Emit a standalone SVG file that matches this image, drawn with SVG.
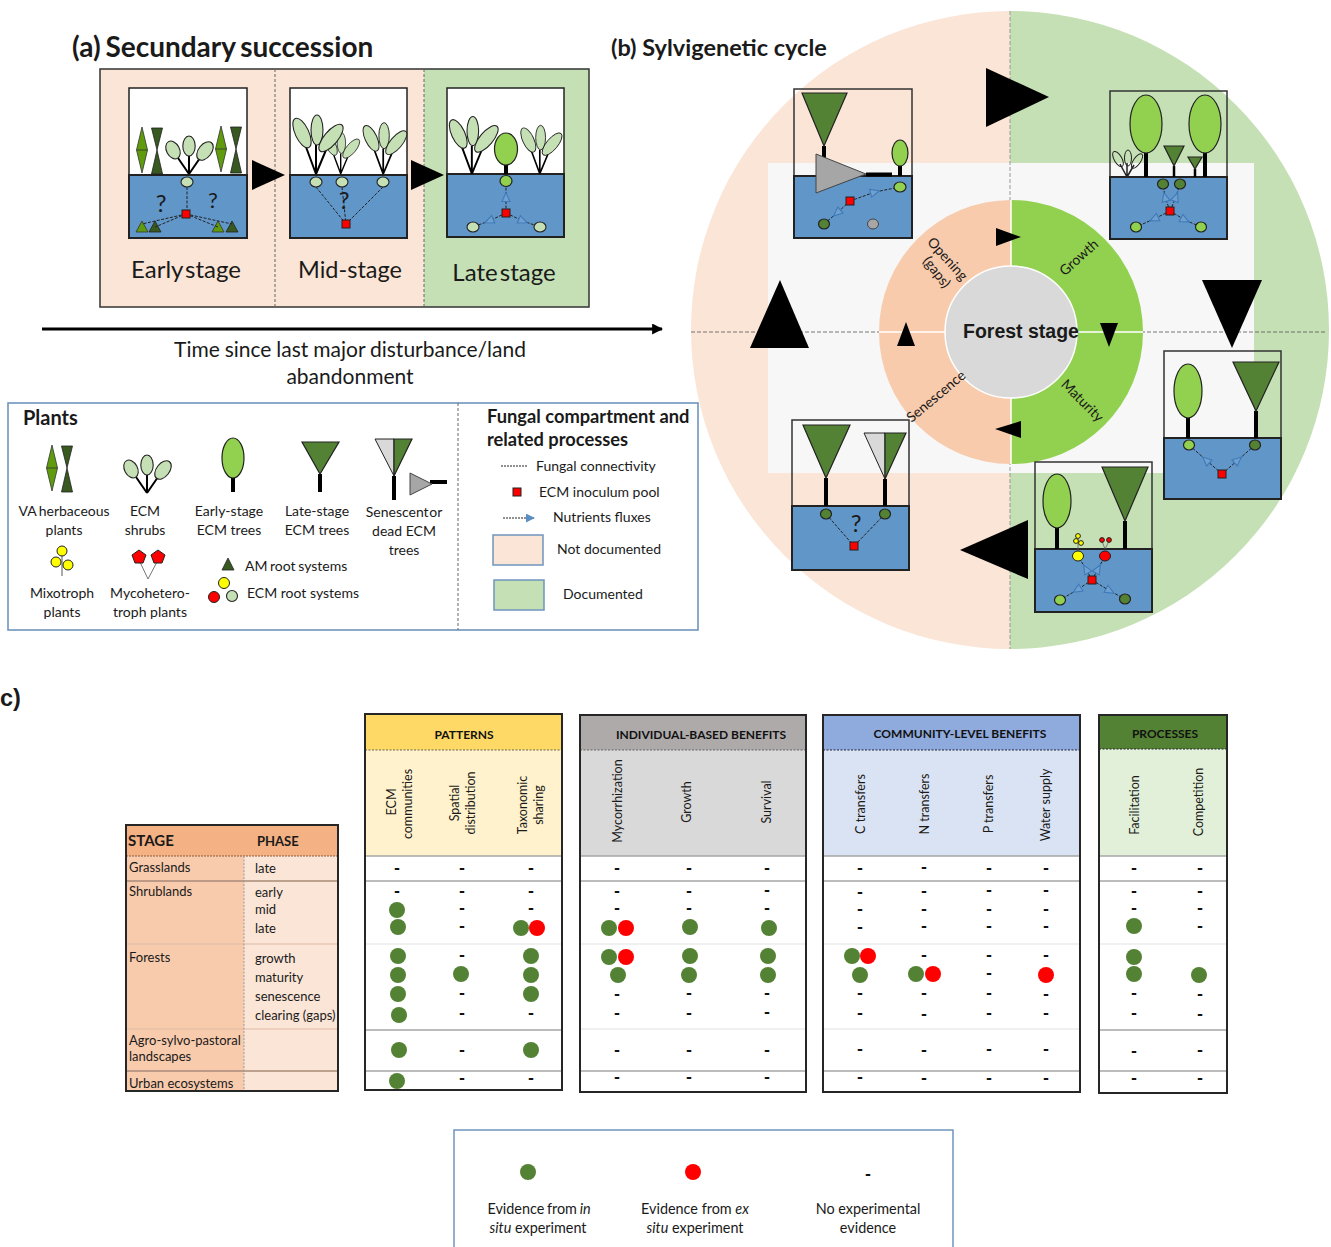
<svg xmlns="http://www.w3.org/2000/svg" xmlns:xlink="http://www.w3.org/1999/xlink" width="1331" height="1247" viewBox="0 0 1331 1247">
<style>
text{font-family:"Lato","Carlito","Liberation Sans",sans-serif;fill:#1a1a1a}
.m{text-anchor:middle}
.b{font-weight:700}
.t14{font-size:14px}.t13{font-size:13px}.t12{font-size:12.5px}
.title{font-size:28px;font-weight:700;word-spacing:-2px}
.stage{font-size:24px;text-anchor:middle}
.head{font-size:12px;font-weight:700;text-anchor:middle;fill:#111}
.rot{font-size:12.5px;text-anchor:middle}
.dash text{font-family:"DejaVu Sans",sans-serif;font-size:14.400px;font-weight:700;text-anchor:middle;fill:#111}
.soil{fill:#6196c9;stroke:#222;stroke-width:2}
.sky{fill:#fff;stroke:#222;stroke-width:1.5}
.skyn{fill:none;stroke:#333;stroke-width:1.5}
.trunk{stroke:#000;stroke-width:4;fill:none}
.stem{stroke:#000;stroke-width:2;fill:none}
.early{fill:#92d050;stroke:#222;stroke-width:1.2}
.late{fill:#548235;stroke:#222;stroke-width:1.2}
.lite{fill:#c5e0b4;stroke:#222;stroke-width:1.1}
.dark{fill:#38591f;stroke:#222;stroke-width:.8}
.herb{fill:#5f9b0c;stroke:#333;stroke-width:.8}
.pool{fill:#f00;stroke:#222;stroke-width:1}
.grey{fill:#a6a6a6;stroke:#444;stroke-width:1}
.silver{fill:#d9d9d9;stroke:#222;stroke-width:1}
.yel{fill:#ff0;stroke:#222;stroke-width:1}
.red{fill:#f00;stroke:#222;stroke-width:1}
.con{fill:none;stroke:#222;stroke-width:1;stroke-dasharray:3 1.5}
.flux{fill:none;stroke:#222;stroke-width:1;stroke-dasharray:3 1.5;marker-mid:url(#flux)}
.sep{stroke:#666;stroke-width:1;stroke-dasharray:3 2;fill:none}
.arrow{fill:#000}
.g{fill:#548235}.r{fill:#f00}
.rowd{stroke:#a6a6a6;stroke-width:1.6}
.rowl{stroke:#e2e2e2;stroke-width:1.2}
.frame{fill:none;stroke:#262626;stroke-width:2}
.lframe{fill:#fff;stroke:#6f95bd;stroke-width:1.6}
</style>
<defs>
<marker id="flux" viewBox="-6 -6 12 12" markerWidth="12" markerHeight="12" orient="auto" markerUnits="userSpaceOnUse"><polygon points="-4.500,-4 4.500,0 -4.500,4" fill="#6fa0d0" stroke="#3f7ab8" stroke-width="1.100"/></marker>
<marker id="blue" viewBox="0 0 10 10" refX="9" refY="5" markerWidth="9" markerHeight="9" orient="auto" markerUnits="userSpaceOnUse"><polygon points="0,0 10,5 0,10" fill="#5b8fc4"/></marker>
<marker id="time" viewBox="0 0 10 10" refX="9" refY="5" markerWidth="11" markerHeight="11" orient="auto" markerUnits="userSpaceOnUse"><polygon points="0,0 10,5 0,10" fill="#000"/></marker>
<g id="shrub"><path class="stem" d="M0,0L-11,-16M0,0V-18M0,0L11,-16"/><ellipse class="lite" cx="-16" cy="-24" rx="6.500" ry="9.500" transform="rotate(-28 -16 -24)"/><ellipse class="lite" cx="0" cy="-28" rx="6.200" ry="10"/><ellipse class="lite" cx="16" cy="-23" rx="6.500" ry="10.500" transform="rotate(38 16 -23)"/></g>
<g id="tall"><path class="stem" d="M0,0L-10,-27M0,0V-29M0,0L10,-24"/><ellipse class="lite" cx="-14" cy="-41" rx="6.800" ry="16" transform="rotate(-25 -14 -41)"/><ellipse class="lite" cx="1" cy="-44" rx="6" ry="15"/><ellipse class="lite" cx="15" cy="-36" rx="6.800" ry="17" transform="rotate(40 15 -36)"/></g>
<g id="herbs"><polygon class="herb" points="0,0 5.500,23 0,46 -5.500,23"/><path d="M-5.500,23H5.500" stroke="#333" stroke-width=".8"/><polygon class="dark" points="9.500,1 20.500,1 15,23 20.500,47 9.500,47 15,23"/></g>
</defs>

<g id="panel-a-bg">
<rect x="100" y="69" width="324" height="238" fill="#fbe5d6"/>
<rect x="424" y="69" width="165" height="238" fill="#c5e0b4"/>
<rect x="100" y="69" width="489" height="238" fill="none" stroke="#333" stroke-width="1.500"/>
<path class="sep" d="M275,69V307M424,69V307"/>
<text x="72" y="57" class="title">(a) Secundary succession</text>
</g>

<g id="early-stage">
<rect class="sky" x="129" y="88" width="118" height="87"/>
<rect class="soil" x="129" y="175" width="118" height="63"/>
<use href="#herbs" x="142" y="127"/>
<use href="#herbs" x="221" y="126"/>
<use href="#shrub" x="189" y="174"/>
<polygon class="herb" points="142,221 148,232 136,232"/><polygon class="dark" points="155,221 161,232 149,232"/>
<polygon class="herb" points="218,221 224,232 212,232"/><polygon class="dark" points="232,221 238,232 226,232"/>
<text x="161" y="212" class="m" font-size="24">?</text><text x="213" y="208" class="m" font-size="22">?</text>
<text x="186" y="278" class="stage" word-spacing="-4">Early stage</text>
</g>
<g id="mid-stage">
<rect class="sky" x="290" y="88" width="117" height="87"/>
<rect class="soil" x="290" y="175" width="117" height="63"/>
<use href="#tall" x="341" y="174" transform="translate(102 52) scale(.7)"/>
<use href="#tall" x="316" y="174"/>
<use href="#tall" x="383" y="174" transform="translate(50 22.600) scale(.87)"/>
<text x="344" y="209" class="m" font-size="24">?</text>
<text x="350" y="278" class="stage" style="font-size:23.500px">Mid-stage</text>
</g>
<g id="late-stage">
<rect class="sky" x="447" y="88" width="117" height="86"/>
<rect class="soil" x="447" y="174" width="117" height="63"/>
<use href="#tall" x="472" y="174" transform="translate(14 5) scale(.97)"/>
<use href="#tall" x="540" y="174" transform="translate(97 31) scale(.82)"/>
<path class="trunk" d="M506,164V174"/><ellipse class="early" cx="506" cy="149" rx="11.500" ry="16"/>
<text x="504" y="281" class="stage" word-spacing="-4">Late stage</text>
</g>

<g id="cycle-bg">
<path d="M1010,11A319,319 0 0 0 1010,649Z" fill="#fbe5d6"/>
<path d="M1010,11A319,319 0 0 1 1010,649Z" fill="#c5e0b4"/>
<rect x="768" y="163" width="486" height="310" fill="#f7f7f7"/>
<path d="M1010,11V649" stroke="#999" stroke-width="1" stroke-dasharray="4 2"/>
<path d="M691,332H1327" stroke="#555" stroke-width=".8" stroke-dasharray="4 2"/>
<text x="611" y="56" font-size="23.500" font-weight="700">(b) Sylvigenetic cycle</text>
</g>
<g id="forest-ring">
<path d="M1011,200A132,132 0 0 0 1011,464Z" fill="#f8cbad"/>
<path d="M1011,200A132,132 0 0 1 1011,464Z" fill="#92d050"/>
<path d="M1011,200V464M879,332H1143" stroke="#fff" stroke-width="1.500"/>
<circle cx="1011" cy="332" r="66" fill="#d9d9d9" stroke="#fff" stroke-width="1.500"/>
<text x="1021" y="338" class="m b" style="font-family:'Liberation Sans',sans-serif;font-size:19.500px">Forest stage</text>
<text transform="translate(944,262) rotate(48)" class="m" font-size="14">Opening</text>
<text transform="translate(933,275) rotate(52)" class="m" font-size="14">(gaps)</text>
<text transform="translate(1082,261) rotate(-42)" class="m" font-size="14">Growth</text>
<text transform="translate(939,400) rotate(-40)" class="m" font-size="14">Senescence</text>
<text transform="translate(1079,404) rotate(45)" class="m" font-size="14">Maturity</text>
</g>

<g id="gap-panel">
<rect class="skyn" x="794" y="89" width="118" height="87"/>
<rect class="soil" x="794" y="176" width="118" height="62"/>
<path class="trunk" d="M824,146V176M866,174.500H892"/>
<polygon class="late" points="802,93 847,93 824,146"/>
<polygon class="grey" points="816,154 816,193 866,174"/>
<path class="trunk" d="M900,166V176"/><ellipse class="early" cx="900" cy="153" rx="8" ry="13"/>
</g>
<g id="growth-panel">
<rect class="skyn" x="1110" y="91" width="117" height="86"/>
<rect class="soil" x="1110" y="177" width="117" height="62"/>
<path class="trunk" d="M1146,150V177M1205,150V177"/>
<ellipse class="early" cx="1146" cy="124" rx="16" ry="29"/><ellipse class="early" cx="1205" cy="124" rx="16" ry="29"/>
<path class="stem" d="M1174,166V177M1195,169V177" style="stroke-width:2.500px"/>
<polygon class="late" points="1164,146 1184,146 1174,166"/><polygon class="late" points="1188,157 1202,157 1195,169"/>
<g fill="none" stroke="#222" stroke-width="1"><path d="M1127,177L1120,164M1127,177V163M1127,177L1134,165" stroke-width="1.500"/><ellipse cx="1118" cy="159" rx="3.800" ry="8.500" transform="rotate(-30 1118 159)"/><ellipse cx="1128" cy="158" rx="3.500" ry="8"/><ellipse cx="1137" cy="161" rx="3.500" ry="8.500" transform="rotate(35 1137 161)"/></g>
</g>
<g id="maturity-panel">
<rect class="skyn" x="1164" y="351" width="117" height="87"/>
<rect class="soil" x="1164" y="438" width="117" height="61"/>
<path class="trunk" d="M1188,416V438M1256,411V438"/>
<ellipse class="early" cx="1188" cy="391" rx="14" ry="27"/>
<polygon class="late" points="1233,362 1279,362 1256,411"/>
</g>
<g id="diverse-panel">
<rect class="skyn" x="1035" y="462" width="117" height="87"/>
<rect class="soil" x="1035" y="549" width="117" height="63"/>
<path class="trunk" d="M1057,526V549M1125,521V549"/>
<ellipse class="early" cx="1057" cy="501" rx="14" ry="27"/>
<polygon class="late" points="1102,467 1148,467 1125,521"/>
<path d="M1078,539V551M1102,541L1105,549L1109,541" stroke="#555" stroke-width=".7" fill="none"/>
<circle class="yel" cx="1078" cy="536" r="2.400"/><circle class="yel" cx="1076" cy="541" r="2.400"/><circle class="yel" cx="1081" cy="543" r="2.400"/>
<circle class="red" cx="1102" cy="540" r="2.400"/><circle class="red" cx="1109" cy="540" r="2.400"/>
</g>
<g id="senescent-panel">
<rect class="skyn" x="792" y="420" width="117" height="86"/>
<rect class="soil" x="792" y="506" width="117" height="64"/>
<path class="trunk" d="M826,478V506M885,479V506"/>
<polygon class="late" points="803,425 850,425 826,478"/>
<polygon class="silver" points="864,433 885,433 885,479"/><polygon class="late" points="885,433 906,433 885,479"/>
<text x="856" y="532" class="m" font-size="24">?</text>
</g>

<g id="connectors">
<path class="con" d="M187,187V214M186,214L142,224M186,214L155,227M186,214L218,227M186,214L232,224"/>
<path class="con" d="M316,187L346,224M342,187L346,224M383,187L346,224"/>
<path class="flux" d="M506,213L506,197L506,186"/>
<path class="flux" d="M506,213L489,221L473,227"/>
<path class="flux" d="M506,213L523,221L540,227"/>
<path class="flux" d="M850,201L875,192L900,187"/>
<path class="flux" d="M850,201L837,213L824,224"/>
<path class="flux" d="M1170,211L1165,197L1163,184"/>
<path class="flux" d="M1170,211L1176,197L1180,184"/>
<path class="flux" d="M1170,211L1154,219L1136,227"/>
<path class="flux" d="M1170,211L1185,220L1201,227"/>
<path class="flux" d="M1222,474L1206,460L1189,445"/>
<path class="flux" d="M1222,474L1238,460L1255,445"/>
<path class="con" d="M826,514L854,546M885,514L854,546"/>
<path class="flux" d="M1092,580L1086,569L1078,556"/>
<path class="flux" d="M1092,580L1098,569L1105,556"/>
<path class="flux" d="M1092,580L1077,590L1060,600"/>
<path class="flux" d="M1092,580L1110,591L1125,599"/>
<path d="M42,329H662" stroke="#000" stroke-width="3" fill="none" marker-end="url(#time)"/>
</g>

<g id="roots-a">
<ellipse class="lite" cx="187" cy="182" rx="6" ry="5"/><rect class="pool" x="182" y="210" width="8" height="8"/>
<ellipse class="lite" cx="316" cy="182" rx="6" ry="5"/><ellipse class="lite" cx="342" cy="182" rx="6" ry="5"/><ellipse class="lite" cx="383" cy="182" rx="6" ry="5"/><rect class="pool" x="342" y="220" width="8" height="8"/>
<ellipse class="early" cx="506" cy="181" rx="6" ry="5.500"/><rect class="pool" x="502" y="209" width="8" height="8"/><ellipse class="lite" cx="473" cy="227" rx="6" ry="5"/><ellipse class="lite" cx="540" cy="227" rx="6" ry="5"/>
</g>
<g id="roots-b">
<ellipse class="early" cx="900" cy="187" rx="6" ry="5"/><rect class="pool" x="846" y="197" width="8" height="8"/><ellipse class="late" cx="824" cy="224" rx="5.500" ry="5"/><ellipse class="grey" cx="873" cy="224" rx="5.500" ry="5"/>
<ellipse class="late" cx="1163" cy="184" rx="5.500" ry="5"/><ellipse class="late" cx="1180" cy="184" rx="5.500" ry="5"/><rect class="pool" x="1166" y="207" width="8" height="8"/><ellipse class="early" cx="1136" cy="227" rx="5.500" ry="5"/><ellipse class="early" cx="1201" cy="227" rx="5.500" ry="5"/>
<ellipse class="early" cx="1189" cy="445" rx="5.500" ry="5"/><ellipse class="late" cx="1255" cy="445" rx="5.500" ry="5"/><rect class="pool" x="1218" y="470" width="8" height="8"/>
<ellipse class="yel" cx="1078" cy="556" rx="5.500" ry="5"/><ellipse class="red" cx="1105" cy="556" rx="5.500" ry="5"/><rect class="pool" x="1088" y="576" width="8" height="8"/><ellipse class="early" cx="1060" cy="600" rx="5.500" ry="5"/><ellipse class="late" cx="1125" cy="599" rx="5.500" ry="5"/>
<ellipse class="late" cx="826" cy="514" rx="5.500" ry="5"/><ellipse class="late" cx="885" cy="514" rx="5.500" ry="5"/><rect class="pool" x="850" y="542" width="8" height="8"/>
</g>

<g id="arrows">
<polygon class="arrow" points="252,160 252,190 285,175"/>
<polygon class="arrow" points="411,160 411,190 444,175"/>
<polygon class="arrow" points="986,68 986,127 1049,97"/>
<polygon class="arrow" points="1202,280 1262,280 1232,348"/>
<polygon class="arrow" points="1028,520 1028,579 960,550"/>
<polygon class="arrow" points="780,280 750,348 809,348"/>
<polygon class="arrow" points="996,228 996,246 1021,237"/>
<polygon class="arrow" points="1100,323 1118,323 1109,347"/>
<polygon class="arrow" points="1021,421 1021,438 995,429"/>
<polygon class="arrow" points="906,322 897,346 915,346"/>
</g>

<g id="timeline-label">
<text x="350" y="357" class="m" font-size="21" word-spacing="-.5">Time since last major disturbance/land</text>
<text x="350" y="384" class="m" font-size="21">abandonment</text>
</g>

<g id="legend-plants">
<rect class="lframe" x="8" y="403" width="690" height="227"/>
<path class="sep" d="M458,403V630"/>
<text x="23" y="425" class="b" font-size="20">Plants</text>
<use href="#herbs" x="52" y="445"/>
<text x="64" y="516" class="m t14" word-spacing="-1">VA herbaceous</text><text x="64" y="535" class="m t14">plants</text>
<use href="#shrub" x="147" y="493"/>
<text x="145" y="516" class="m t14">ECM</text><text x="145" y="535" class="m t14">shrubs</text>
<path class="trunk" d="M233,477V492"/><ellipse class="early" cx="233" cy="458" rx="11" ry="20"/>
<text x="229" y="516" class="m t14">Early-stage</text><text x="229" y="535" class="m t14">ECM trees</text>
<path class="trunk" d="M320,474V492"/><polygon class="late" points="302,442 339,442 320,474"/>
<text x="317" y="516" class="m t14">Late-stage</text><text x="317" y="535" class="m t14">ECM trees</text>
<path class="trunk" d="M394,476V500M430,482H447"/>
<polygon class="silver" points="375,439 394,439 394,476"/><polygon class="late" points="394,439 412,439 394,476"/>
<polygon class="grey" points="410,473 410,495 432,484"/>
<text x="404" y="517" class="m t14" word-spacing="-3">Senescent or</text><text x="404" y="536" class="m t14">dead ECM</text><text x="404" y="555" class="m t14">trees</text>
<path d="M62,555V576" stroke="#555"/><circle class="yel" cx="62" cy="551" r="5"/><circle class="yel" cx="56" cy="562" r="5"/><circle class="yel" cx="68" cy="565" r="5"/>
<text x="62" y="598" class="m t14">Mixotroph</text><text x="62" y="617" class="m t14">plants</text>
<path d="M139,560L148,579L158,560" stroke="#777" fill="none"/>
<polygon class="red" points="139,550 146,555 143,563 135,563 132,555"/><polygon class="red" points="158,550 165,555 162,563 154,563 151,555"/>
<text x="150" y="598" class="m t14">Mycohetero-</text><text x="150" y="617" class="m t14">troph plants</text>
<polygon class="dark" points="228,558 234,570 222,570"/><text x="245" y="571" class="t14" word-spacing="-1">AM root systems</text>
<circle class="yel" cx="224" cy="583" r="5.500"/><circle class="red" cx="214" cy="597" r="5.500"/><circle class="lite" cx="232" cy="596" r="5.500"/><text x="247" y="598" class="t14">ECM root systems</text>
</g>
<g id="legend-fungal">
<text x="487" y="423" class="b" font-size="18.300">Fungal compartment and</text><text x="487" y="446" class="b" font-size="18.300">related processes</text>
<path d="M501,466H527" stroke="#222" stroke-width="1" stroke-dasharray="2 1"/>
<text x="536" y="471" class="t14">Fungal connectivity</text>
<rect class="pool" x="513" y="488" width="8" height="8"/><text x="539" y="497" class="t14">ECM inoculum pool</text>
<path d="M503,518H534" stroke="#222" stroke-width="1" stroke-dasharray="2 1" marker-end="url(#blue)"/>
<text x="553" y="522" class="t14">Nutrients fluxes</text>
<rect x="493" y="535" width="50" height="30" fill="#fbe5d6" stroke="#6f95bd" stroke-width="1.500"/><text x="557" y="554" class="t14">Not documented</text>
<rect x="494" y="580" width="50" height="30" fill="#c5e0b4" stroke="#6f95bd" stroke-width="1.500"/><text x="563" y="599" class="t14">Documented</text>
</g>

<text x="0" y="706" class="b" style="font-family:'Liberation Sans',sans-serif;font-size:23.500px">c)</text>

<g id="stage-table">
<rect x="126" y="825" width="212" height="31" fill="#f4b183"/>
<rect x="126" y="856" width="118" height="235" fill="#f8cbad"/>
<rect x="244" y="856" width="94" height="235" fill="#fbe5d6"/>
<path d="M126,856H338" stroke="#8a5a3a" stroke-width="1" stroke-dasharray="2 1"/>
<path d="M126,881H338M126,1071H338" stroke="#a88a78" stroke-width="1.500"/>
<path d="M126,944H338M126,1029H338" stroke="#dcbba5" stroke-width="1"/>
<path d="M244,856V1091" stroke="#999" stroke-width="1" stroke-dasharray="2 1.500"/>
<rect class="frame" x="126" y="825" width="212" height="266"/>
<text x="128" y="846" class="b" font-size="15">STAGE</text><text x="257" y="846" class="b t13">PHASE</text>
<g class="t13">
<text x="129" y="872">Grasslands</text><text x="255" y="873">late</text>
<text x="129" y="896">Shrublands</text><text x="255" y="897">early</text><text x="255" y="914">mid</text><text x="255" y="933">late</text>
<text x="129" y="962">Forests</text><text x="255" y="963">growth</text><text x="255" y="982">maturity</text><text x="255" y="1001">senescence</text><text x="255" y="1020">clearing (gaps)</text>
<text x="129" y="1045">Agro-sylvo-pastoral</text><text x="129" y="1061">landscapes</text>
<text x="129" y="1088">Urban ecosystems</text>
</g>
</g>

<g id="patterns">
<rect x="365" y="714" width="197" height="36" fill="#ffd966"/><rect x="365" y="750" width="197" height="106" fill="#fff2cc"/><rect x="365" y="856" width="197" height="234" fill="#fff"/>
<path d="M365,750H562" stroke="#665" stroke-width="1" stroke-dasharray="2 1.500"/>
<path class="rowd" d="M365,856H562M365,881H562M365,1030H562M365,1071H562"/><path class="rowl" d="M365,944H562"/>
<rect class="frame" x="365" y="714" width="197" height="376"/>
<text x="464" y="739" class="head">PATTERNS</text>
<text transform="translate(396,802) rotate(-90)" class="rot">ECM</text><text transform="translate(412,804) rotate(-90)" class="rot">communities</text>
<text transform="translate(459,803) rotate(-90)" class="rot">Spatial</text><text transform="translate(475,803) rotate(-90)" class="rot">distribution</text>
<text transform="translate(527,805) rotate(-90)" class="rot">Taxonomic</text><text transform="translate(543,805) rotate(-90)" class="rot">sharing</text>
<g class="g"><circle cx="397" cy="910" r="8"/><circle cx="398" cy="927" r="8"/><circle cx="521" cy="928" r="8"/><circle cx="398" cy="956" r="8"/><circle cx="531" cy="956" r="8"/><circle cx="398" cy="975" r="8"/><circle cx="461" cy="974" r="8"/><circle cx="531" cy="975" r="8"/><circle cx="398" cy="994" r="8"/><circle cx="531" cy="994" r="8"/><circle cx="399" cy="1015" r="8"/><circle cx="399" cy="1050" r="8"/><circle cx="531" cy="1050" r="8"/><circle cx="397" cy="1081" r="8"/></g>
<circle class="r" cx="537" cy="928" r="8"/>
<g class="dash">
<text x="397" y="873">-</text><text x="397" y="896">-</text>
<text x="462" y="873">-</text><text x="462" y="896">-</text><text x="462" y="913">-</text><text x="462" y="931">-</text><text x="462" y="960">-</text><text x="462" y="998">-</text><text x="462" y="1018">-</text><text x="462" y="1055">-</text><text x="462" y="1083">-</text>
<text x="531" y="873">-</text><text x="531" y="896">-</text><text x="531" y="913">-</text><text x="531" y="1018">-</text><text x="531" y="1083">-</text>
</g>
</g>

<g id="individual">
<rect x="580" y="715" width="226" height="35" fill="#aeaaaa"/><rect x="580" y="750" width="226" height="106" fill="#d9d9d9"/>
<path d="M580,750H806" stroke="#666" stroke-width="1" stroke-dasharray="2 1.500"/>
<path class="rowd" d="M580,856H806M580,881H806M580,1071H806"/><path class="rowl" d="M580,944H806M580,1029H806"/>
<rect class="frame" x="580" y="715" width="226" height="377"/>
<text x="701" y="739" class="head">INDIVIDUAL-BASED BENEFITS</text>
<text transform="translate(622,801) rotate(-90)" class="rot">Mycorrhization</text>
<text transform="translate(691,802) rotate(-90)" class="rot">Growth</text>
<text transform="translate(771,802) rotate(-90)" class="rot">Survival</text>
<g class="g"><circle cx="609" cy="928" r="8"/><circle cx="690" cy="927" r="8"/><circle cx="769" cy="928" r="8"/><circle cx="609" cy="957" r="8"/><circle cx="690" cy="956" r="8"/><circle cx="768" cy="956" r="8"/><circle cx="618" cy="975" r="8"/><circle cx="689" cy="975" r="8"/><circle cx="768" cy="975" r="8"/></g>
<g class="r"><circle cx="626" cy="928" r="8"/><circle cx="626" cy="957" r="8"/></g>
<g class="dash">
<text x="617" y="873">-</text><text x="617" y="896">-</text><text x="617" y="913">-</text><text x="617" y="999">-</text><text x="617" y="1018">-</text><text x="617" y="1055">-</text><text x="617" y="1082">-</text>
<text x="689" y="873">-</text><text x="689" y="896">-</text><text x="689" y="913">-</text><text x="689" y="998">-</text><text x="689" y="1018">-</text><text x="689" y="1055">-</text><text x="689" y="1082">-</text>
<text x="767" y="873">-</text><text x="767" y="895">-</text><text x="767" y="913">-</text><text x="767" y="998">-</text><text x="767" y="1017">-</text><text x="767" y="1055">-</text><text x="767" y="1082">-</text>
</g>
</g>

<g id="community">
<rect x="823" y="715" width="257" height="35" fill="#8faadc"/><rect x="823" y="750" width="257" height="106" fill="#dae3f3"/>
<path d="M823,750H1080" stroke="#223" stroke-width="1" stroke-dasharray="2 1.500"/>
<path class="rowd" d="M823,856H1080M823,881H1080M823,1071H1080"/><path class="rowl" d="M823,944H1080M823,1029H1080"/>
<rect class="frame" x="823" y="715" width="257" height="377"/>
<text x="960" y="738" class="head">COMMUNITY-LEVEL BENEFITS</text>
<text transform="translate(865,804) rotate(-90)" class="rot">C transfers</text>
<text transform="translate(929,804) rotate(-90)" class="rot">N transfers</text>
<text transform="translate(993,804) rotate(-90)" class="rot">P transfers</text>
<text transform="translate(1050,805) rotate(-90)" class="rot">Water supply</text>
<g class="g"><circle cx="852" cy="956" r="8"/><circle cx="860" cy="975" r="8"/><circle cx="916" cy="974" r="8"/></g>
<g class="r"><circle cx="868" cy="956" r="8"/><circle cx="933" cy="974" r="8"/><circle cx="1046" cy="975" r="8"/></g>
<g class="dash">
<text x="860" y="873">-</text><text x="860" y="897">-</text><text x="860" y="914">-</text><text x="860" y="932">-</text><text x="860" y="998">-</text><text x="860" y="1018">-</text><text x="860" y="1054">-</text><text x="860" y="1082">-</text>
<text x="924" y="872">-</text><text x="924" y="896">-</text><text x="924" y="914">-</text><text x="924" y="931">-</text><text x="924" y="960">-</text><text x="924" y="998">-</text><text x="924" y="1019">-</text><text x="924" y="1055">-</text><text x="924" y="1083">-</text>
<text x="989" y="873">-</text><text x="989" y="895">-</text><text x="989" y="914">-</text><text x="989" y="931">-</text><text x="989" y="960">-</text><text x="989" y="978">-</text><text x="989" y="998">-</text><text x="989" y="1018">-</text><text x="989" y="1054">-</text><text x="989" y="1083">-</text>
<text x="1046" y="873">-</text><text x="1046" y="895">-</text><text x="1046" y="914">-</text><text x="1046" y="931">-</text><text x="1046" y="960">-</text><text x="1046" y="999">-</text><text x="1046" y="1018">-</text><text x="1046" y="1054">-</text><text x="1046" y="1083">-</text>
</g>
</g>

<g id="processes">
<rect x="1099" y="715" width="128" height="34" fill="#548235"/><rect x="1099" y="749" width="128" height="107" fill="#e2f0d9"/>
<path d="M1099,749H1227" stroke="#223" stroke-width="1" stroke-dasharray="2 1.500"/>
<path class="rowd" d="M1099,856H1227M1099,881H1227M1099,1030H1227M1099,1071H1227"/><path class="rowl" d="M1099,944H1227"/>
<rect class="frame" x="1099" y="715" width="128" height="378"/>
<text x="1165" y="738" class="head">PROCESSES</text>
<text transform="translate(1139,805) rotate(-90)" class="rot">Facilitation</text>
<text transform="translate(1203,802) rotate(-90)" class="rot">Competition</text>
<g class="g"><circle cx="1134" cy="926" r="8"/><circle cx="1134" cy="957" r="8"/><circle cx="1134" cy="974" r="8"/><circle cx="1199" cy="975" r="8"/></g>
<g class="dash">
<text x="1134" y="873">-</text><text x="1134" y="896">-</text><text x="1134" y="913">-</text><text x="1134" y="998">-</text><text x="1134" y="1018">-</text><text x="1134" y="1056">-</text><text x="1134" y="1083">-</text>
<text x="1200" y="873">-</text><text x="1200" y="896">-</text><text x="1200" y="913">-</text><text x="1200" y="931">-</text><text x="1200" y="999">-</text><text x="1200" y="1019">-</text><text x="1200" y="1055">-</text><text x="1200" y="1083">-</text>
</g>
</g>

<g id="evidence-legend">
<rect x="454" y="1130" width="499" height="130" fill="#fff" stroke="#6f95bd" stroke-width="1.500"/>
<circle class="g" cx="528" cy="1172" r="8"/><circle class="r" cx="693" cy="1172" r="8"/>
<g class="dash"><text x="868" y="1179">-</text></g>
<text x="539" y="1214" class="m" font-size="14.400" word-spacing="-1">Evidence from <tspan font-style="italic">in</tspan></text><text x="538" y="1233" class="m" font-size="14.400"><tspan font-style="italic">situ</tspan> experiment</text>
<text x="695" y="1214" class="m" font-size="14.400">Evidence from <tspan font-style="italic">ex</tspan></text><text x="695" y="1233" class="m" font-size="14.400"><tspan font-style="italic">situ</tspan> experiment</text>
<text x="868" y="1214" class="m" font-size="14.400">No experimental</text><text x="868" y="1233" class="m" font-size="14.400">evidence</text>
</g>
</svg>
